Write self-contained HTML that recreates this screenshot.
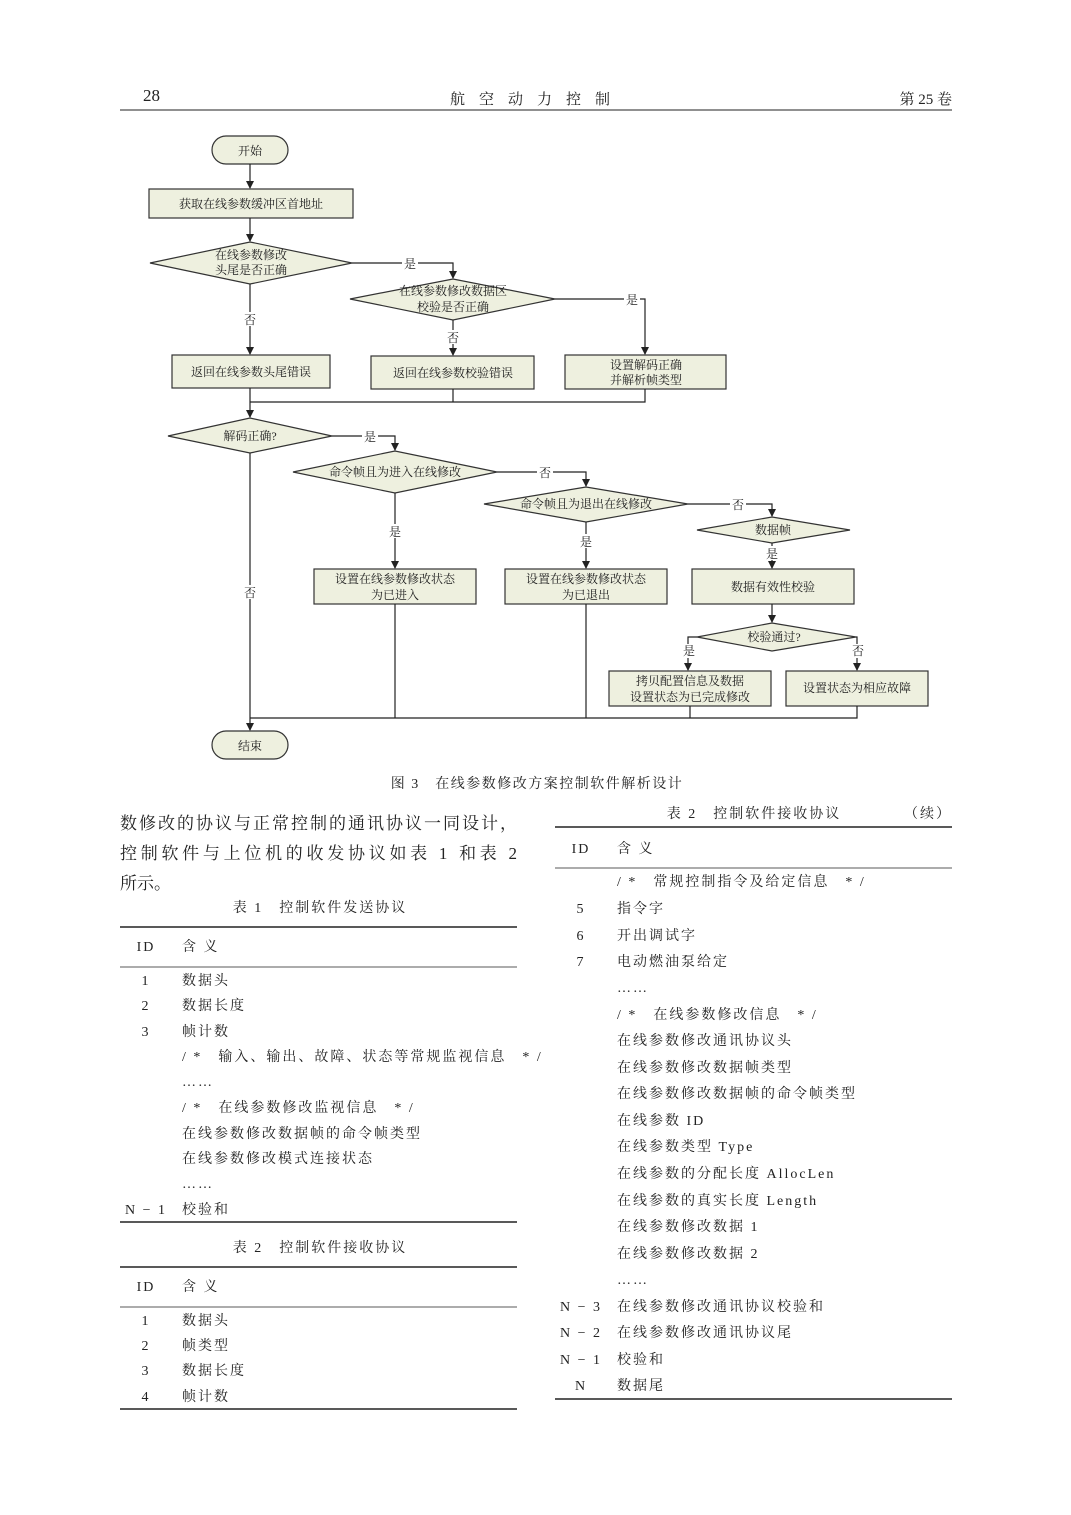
<!DOCTYPE html>
<html><head><meta charset="utf-8"><style>
html,body{margin:0;padding:0;background:#fff}
svg{display:block}
text{font-family:"Liberation Serif","Noto Serif CJK SC","Noto Sans CJK SC",serif;fill:#222}
.f{font-size:12px}
.t{font-size:14px;letter-spacing:2px}
.p{font-size:17px}
.n{fill:#eef0df;stroke:#333;stroke-width:1.2}
.l{stroke:#222;stroke-width:1.2;fill:none}
</style></head><body>
<svg width="1071" height="1515" viewBox="0 0 1071 1515" xmlns="http://www.w3.org/2000/svg">
<defs><marker id="a" markerWidth="8" markerHeight="8" refX="7" refY="4" orient="auto" markerUnits="userSpaceOnUse"><path d="M0,0 L8,4 L0,8 z" fill="#222"/></marker></defs>
<!-- header -->
<text x="143" y="101" style="font-size:17px">28</text>
<text x="537" y="104" text-anchor="middle" style="font-size:15px;letter-spacing:14px">航空动力控制</text>
<text x="952" y="104" text-anchor="end" style="font-size:15px">第 25 卷</text>
<line x1="120" y1="110" x2="952" y2="110" stroke="#222" stroke-width="1"/>

<!-- flowchart -->
<rect class="n" x="212" y="136" width="76" height="28" rx="14"/>
<text class="f" x="250" y="155" text-anchor="middle">开始</text>
<line class="l" x1="250" y1="164" x2="250" y2="188" marker-end="url(#a)"/>
<rect class="n" x="149" y="189" width="204" height="29"/>
<text class="f" x="251" y="208" text-anchor="middle">获取在线参数缓冲区首地址</text>
<line class="l" x1="250" y1="218" x2="250" y2="241" marker-end="url(#a)"/>
<polygon class="n" points="150,263 250,242 352,263 250,284"/>
<text class="f" x="251" y="259" text-anchor="middle">在线参数修改</text>
<text class="f" x="251" y="274" text-anchor="middle">头尾是否正确</text>
<polyline class="l" points="352,263 453,263 453,278" marker-end="url(#a)"/>
<rect x="402" y="256" width="16" height="14" fill="#fff"/><text class="f" x="410" y="268" text-anchor="middle">是</text>
<line class="l" x1="250" y1="284" x2="250" y2="354" marker-end="url(#a)"/>
<rect x="242" y="312" width="16" height="14" fill="#fff"/><text class="f" x="250" y="324" text-anchor="middle">否</text>
<polygon class="n" points="350,299 453,279 555,299 453,320"/>
<text class="f" x="453" y="295" text-anchor="middle">在线参数修改数据区</text>
<text class="f" x="453" y="311" text-anchor="middle">校验是否正确</text>
<polyline class="l" points="555,299 645,299 645,354" marker-end="url(#a)"/>
<rect x="624" y="292" width="16" height="14" fill="#fff"/><text class="f" x="632" y="304" text-anchor="middle">是</text>
<line class="l" x1="453" y1="320" x2="453" y2="355" marker-end="url(#a)"/>
<rect x="445" y="330" width="16" height="14" fill="#fff"/><text class="f" x="453" y="342" text-anchor="middle">否</text>
<rect class="n" x="172" y="355" width="158" height="33"/>
<text class="f" x="251" y="376" text-anchor="middle">返回在线参数头尾错误</text>
<rect class="n" x="371" y="356" width="163" height="33"/>
<text class="f" x="453" y="377" text-anchor="middle">返回在线参数校验错误</text>
<rect class="n" x="565" y="355" width="161" height="34"/>
<text class="f" x="646" y="369" text-anchor="middle">设置解码正确</text>
<text class="f" x="646" y="384" text-anchor="middle">并解析帧类型</text>
<polyline class="l" points="453,389 453,402"/><polyline class="l" points="645,389 645,402 250,402"/>
<line class="l" x1="250" y1="388" x2="250" y2="417" marker-end="url(#a)"/>
<polygon class="n" points="168,436 250,418 332,436 250,453"/>
<text class="f" x="250" y="440" text-anchor="middle">解码正确?</text>
<polyline class="l" points="332,436 395,436 395,450" marker-end="url(#a)"/>
<rect x="362" y="429" width="16" height="14" fill="#fff"/><text class="f" x="370" y="441" text-anchor="middle">是</text>
<line class="l" x1="250" y1="453" x2="250" y2="730" marker-end="url(#a)"/>
<rect x="242" y="585" width="16" height="14" fill="#fff"/><text class="f" x="250" y="597" text-anchor="middle">否</text>
<polygon class="n" points="293,472 395,451 497,472 395,493"/>
<text class="f" x="395" y="476" text-anchor="middle">命令帧且为进入在线修改</text>
<polyline class="l" points="497,472 586,472 586,486" marker-end="url(#a)"/>
<rect x="537" y="465" width="16" height="14" fill="#fff"/><text class="f" x="545" y="477" text-anchor="middle">否</text>
<line class="l" x1="395" y1="493" x2="395" y2="568" marker-end="url(#a)"/>
<rect x="387" y="524" width="16" height="14" fill="#fff"/><text class="f" x="395" y="536" text-anchor="middle">是</text>
<polygon class="n" points="484,504 586,487 688,504 586,522"/>
<text class="f" x="586" y="508" text-anchor="middle">命令帧且为退出在线修改</text>
<polyline class="l" points="688,504 772,504 772,516" marker-end="url(#a)"/>
<rect x="730" y="497" width="16" height="14" fill="#fff"/><text class="f" x="738" y="509" text-anchor="middle">否</text>
<line class="l" x1="586" y1="522" x2="586" y2="568" marker-end="url(#a)"/>
<rect x="578" y="534" width="16" height="14" fill="#fff"/><text class="f" x="586" y="546" text-anchor="middle">是</text>
<polygon class="n" points="697,530 772,517 850,530 772,543"/>
<text class="f" x="773" y="534" text-anchor="middle">数据帧</text>
<line class="l" x1="772" y1="543" x2="772" y2="568" marker-end="url(#a)"/>
<rect x="764" y="546" width="16" height="14" fill="#fff"/><text class="f" x="772" y="558" text-anchor="middle">是</text>
<rect class="n" x="314" y="569" width="162" height="35"/>
<text class="f" x="395" y="583" text-anchor="middle">设置在线参数修改状态</text>
<text class="f" x="395" y="599" text-anchor="middle">为已进入</text>
<rect class="n" x="505" y="569" width="162" height="35"/>
<text class="f" x="586" y="583" text-anchor="middle">设置在线参数修改状态</text>
<text class="f" x="586" y="599" text-anchor="middle">为已退出</text>
<rect class="n" x="692" y="569" width="162" height="35"/>
<text class="f" x="773" y="591" text-anchor="middle">数据有效性校验</text>
<line class="l" x1="772" y1="604" x2="772" y2="622" marker-end="url(#a)"/>
<polygon class="n" points="697,637 772,623 856,637 772,651"/>
<text class="f" x="774" y="641" text-anchor="middle">校验通过?</text>
<polyline class="l" points="697,637 688,637 688,670" marker-end="url(#a)"/>
<polyline class="l" points="856,637 857,637 857,670" marker-end="url(#a)"/>
<rect x="681" y="644" width="16" height="14" fill="#fff"/><text class="f" x="689" y="655" text-anchor="middle">是</text>
<rect x="850" y="644" width="16" height="14" fill="#fff"/><text class="f" x="858" y="655" text-anchor="middle">否</text>
<rect class="n" x="609" y="671" width="162" height="35"/>
<text class="f" x="690" y="685" text-anchor="middle">拷贝配置信息及数据</text>
<text class="f" x="690" y="701" text-anchor="middle">设置状态为已完成修改</text>
<rect class="n" x="786" y="671" width="142" height="35"/>
<text class="f" x="857" y="692" text-anchor="middle">设置状态为相应故障</text>
<polyline class="l" points="395,604 395,718"/><polyline class="l" points="586,604 586,718"/>
<polyline class="l" points="690,706 690,718"/><polyline class="l" points="857,706 857,718 250,718"/>
<rect class="n" x="212" y="731" width="76" height="28" rx="14"/>
<text class="f" x="250" y="750" text-anchor="middle">结束</text>
<text x="537" y="788" text-anchor="middle" style="font-size:14px;letter-spacing:1.5px">图 3　在线参数修改方案控制软件解析设计</text>

<!-- left column -->
<text class="p" x="120" y="829" textLength="397" lengthAdjust="spacing">数修改的协议与正常控制的通讯协议一同设计，</text>
<text class="p" x="120" y="859" textLength="397" lengthAdjust="spacing">控制软件与上位机的收发协议如表 1 和表 2</text>
<text class="p" x="120" y="889">所示。</text>
<text class="t" x="320" y="912" text-anchor="middle">表 1　控制软件发送协议</text>
<line x1="120" y1="927" x2="517" y2="927" stroke="#222" stroke-width="1.6"/>
<text class="t" x="146" y="951" text-anchor="middle">ID</text><text class="t" x="182" y="951">含 义</text>
<line x1="120" y1="967" x2="517" y2="967" stroke="#222" stroke-width="0.8"/>
<text class="t" x="146" y="985" text-anchor="middle">1</text><text class="t" x="182" y="985">数据头</text>
<text class="t" x="146" y="1010" text-anchor="middle">2</text><text class="t" x="182" y="1010">数据长度</text>
<text class="t" x="146" y="1036" text-anchor="middle">3</text><text class="t" x="182" y="1036">帧计数</text>
<text class="t" x="182" y="1061">/ *　输入、输出、故障、状态等常规监视信息　* /</text>
<text class="t" x="182" y="1086">……</text>
<text class="t" x="182" y="1112">/ *　在线参数修改监视信息　* /</text>
<text class="t" x="182" y="1138">在线参数修改数据帧的命令帧类型</text>
<text class="t" x="182" y="1163">在线参数修改模式连接状态</text>
<text class="t" x="182" y="1188">……</text>
<text class="t" x="146" y="1214" text-anchor="middle">N − 1</text><text class="t" x="182" y="1214">校验和</text>
<line x1="120" y1="1222" x2="517" y2="1222" stroke="#222" stroke-width="1.6"/>
<text class="t" x="320" y="1252" text-anchor="middle">表 2　控制软件接收协议</text>
<line x1="120" y1="1267" x2="517" y2="1267" stroke="#222" stroke-width="1.6"/>
<text class="t" x="146" y="1291" text-anchor="middle">ID</text><text class="t" x="182" y="1291">含 义</text>
<line x1="120" y1="1307" x2="517" y2="1307" stroke="#222" stroke-width="0.8"/>
<text class="t" x="146" y="1325" text-anchor="middle">1</text><text class="t" x="182" y="1325">数据头</text>
<text class="t" x="146" y="1350" text-anchor="middle">2</text><text class="t" x="182" y="1350">帧类型</text>
<text class="t" x="146" y="1375" text-anchor="middle">3</text><text class="t" x="182" y="1375">数据长度</text>
<text class="t" x="146" y="1401" text-anchor="middle">4</text><text class="t" x="182" y="1401">帧计数</text>
<line x1="120" y1="1409" x2="517" y2="1409" stroke="#222" stroke-width="1.6"/>

<!-- right column -->
<text class="t" x="754" y="818" text-anchor="middle">表 2　控制软件接收协议</text>
<text class="t" x="952" y="818" text-anchor="end">（续）</text>
<line x1="555" y1="827" x2="952" y2="827" stroke="#222" stroke-width="1.6"/>
<text class="t" x="581" y="853" text-anchor="middle">ID</text><text class="t" x="617" y="853">含 义</text>
<line x1="555" y1="868" x2="952" y2="868" stroke="#222" stroke-width="0.8"/>
<text class="t" x="617" y="886">/ *　常规控制指令及给定信息　* /</text>
<text class="t" x="581" y="913" text-anchor="middle">5</text><text class="t" x="617" y="913">指令字</text>
<text class="t" x="581" y="940" text-anchor="middle">6</text><text class="t" x="617" y="940">开出调试字</text>
<text class="t" x="581" y="966" text-anchor="middle">7</text><text class="t" x="617" y="966">电动燃油泵给定</text>
<text class="t" x="617" y="992">……</text>
<text class="t" x="617" y="1019">/ *　在线参数修改信息　* /</text>
<text class="t" x="617" y="1045">在线参数修改通讯协议头</text>
<text class="t" x="617" y="1072">在线参数修改数据帧类型</text>
<text class="t" x="617" y="1098">在线参数修改数据帧的命令帧类型</text>
<text class="t" x="617" y="1125">在线参数 ID</text>
<text class="t" x="617" y="1151">在线参数类型 Type</text>
<text class="t" x="617" y="1178">在线参数的分配长度 AllocLen</text>
<text class="t" x="617" y="1205">在线参数的真实长度 Length</text>
<text class="t" x="617" y="1231">在线参数修改数据 1</text>
<text class="t" x="617" y="1258">在线参数修改数据 2</text>
<text class="t" x="617" y="1284">……</text>
<text class="t" x="581" y="1311" text-anchor="middle">N − 3</text><text class="t" x="617" y="1311">在线参数修改通讯协议校验和</text>
<text class="t" x="581" y="1337" text-anchor="middle">N − 2</text><text class="t" x="617" y="1337">在线参数修改通讯协议尾</text>
<text class="t" x="581" y="1364" text-anchor="middle">N − 1</text><text class="t" x="617" y="1364">校验和</text>
<text class="t" x="581" y="1390" text-anchor="middle">N</text><text class="t" x="617" y="1390">数据尾</text>
<line x1="555" y1="1399" x2="952" y2="1399" stroke="#222" stroke-width="1.6"/>
</svg>
</body></html>
